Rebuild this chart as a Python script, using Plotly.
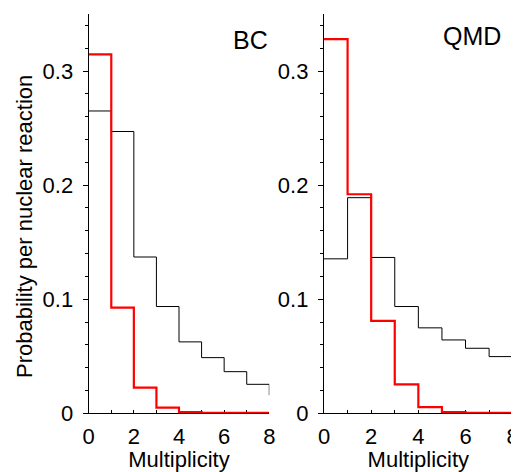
import plotly.graph_objects as go

# Bin edges (multiplicity) and step values per bin (last value = drop at x=8)
multiplicity = [0, 1, 2, 3, 4, 5, 6, 7, 8]

bc_black = [0.265, 0.247, 0.137, 0.0936, 0.0626, 0.0488, 0.0365, 0.0254, 0.0158]
bc_red = [0.3146, 0.0927, 0.0225, 0.005, 0.001, 0.0005, 0.0004, 0.0003, 0.0003]

qmd_black = [0.1354, 0.189, 0.1366, 0.0936, 0.0749, 0.0643, 0.057, 0.0497, 0.040]
qmd_red = [0.328, 0.192, 0.081, 0.0254, 0.0055, 0.001, 0.0005, 0.0004, 0.0003]

x_ticks = [0, 2, 4, 6, 8]
y_ticks = [0, 0.1, 0.2, 0.3]
panel_labels = ["BC", "QMD"]

FONT = "Liberation Sans, Arial, Helvetica, sans-serif"
# The page body has an 8px default margin; the figure is sized to fill the rest of the window.
OFF = 8
W, H = 519 - OFF, 472 - OFF

def PX(px):
    return (px - OFF) / W

def PY(py):
    return (H - (py - OFF)) / H

fig = go.Figure()

def add_panel(xa, ya, black, red):
    fig.add_trace(go.Scatter(x=multiplicity, y=black, mode="lines", line_shape="hv",
                             line=dict(color="black", width=1), xaxis=xa, yaxis=ya,
                             showlegend=False, hoverinfo="skip"))
    fig.add_trace(go.Scatter(x=multiplicity, y=red, mode="lines", line_shape="hv",
                             line=dict(color="#ff0000", width=2.2), xaxis=xa, yaxis=ya,
                             showlegend=False, hoverinfo="skip"))

add_panel("x", "y", bc_black, bc_red)
add_panel("x2", "y2", qmd_black, qmd_red)

ydom = [PY(413.3), PY(14)]
xdom1 = [PX(88.7), PX(269.3)]
xdom2 = [PX(324.0), PX(512.7)]

def xaxis_cfg(dom, anchor):
    return dict(domain=dom, anchor=anchor, range=[0, 8], tickvals=x_ticks,
                ticktext=[str(v) for v in x_ticks], automargin=False,
                ticklabeloverflow="allow",
                showline=True, linecolor="black", linewidth=1.3, mirror=False,
                ticks="inside", ticklen=3, tickwidth=1, tickcolor="black",
                minor=dict(dtick=1, tick0=0, ticks="inside", ticklen=3, tickcolor="black"),
                showgrid=False, zeroline=False, layer="below traces",
                tickfont=dict(family=FONT, size=22, color="black"),
                ticklabelstandoff=3,
                title=dict(text="Multiplicity", font=dict(family=FONT, size=22, color="black"),
                           standoff=3))

def yaxis_cfg(anchor):
    return dict(domain=ydom, anchor=anchor, range=[0, 0.35], tickvals=y_ticks,
                ticktext=["0", "0.1", "0.2", "0.3"], automargin=False,
                ticklabeloverflow="allow",
                showline=True, linecolor="black", linewidth=1.3,
                ticks="outside", ticklen=5, tickwidth=1, tickcolor="black",
                minor=dict(dtick=0.02, tick0=0, ticks="outside", ticklen=3, tickcolor="black"),
                showgrid=False, zeroline=False, layer="below traces",
                tickfont=dict(family=FONT, size=22, color="black"),
                ticklabelstandoff=5)

fig.update_layout(
    width=W, height=H,
    margin=dict(l=0, r=0, t=0, b=0),
    paper_bgcolor="white", plot_bgcolor="white",
    xaxis=xaxis_cfg(xdom1, "y"),
    yaxis=yaxis_cfg("x"),
    xaxis2=xaxis_cfg(xdom2, "y2"),
    yaxis2=yaxis_cfg("x2"),
    annotations=[
        dict(text="Probability per nuclear reaction", x=PX(25), y=PY(227),
             xref="paper", yref="paper", textangle=-90, showarrow=False,
             font=dict(family=FONT, size=22, color="black"), xanchor="center", yanchor="middle"),
        dict(text=panel_labels[0], x=PX(250.5), y=PY(40), xref="paper", yref="paper",
             showarrow=False, font=dict(family=FONT, size=25, color="black"),
             xanchor="center", yanchor="middle"),
        dict(text=panel_labels[1], x=PX(471.7), y=PY(36), xref="paper", yref="paper",
             showarrow=False, font=dict(family=FONT, size=25, color="black"),
             xanchor="center", yanchor="middle"),
    ],
)

fig.write_html("out.html")
